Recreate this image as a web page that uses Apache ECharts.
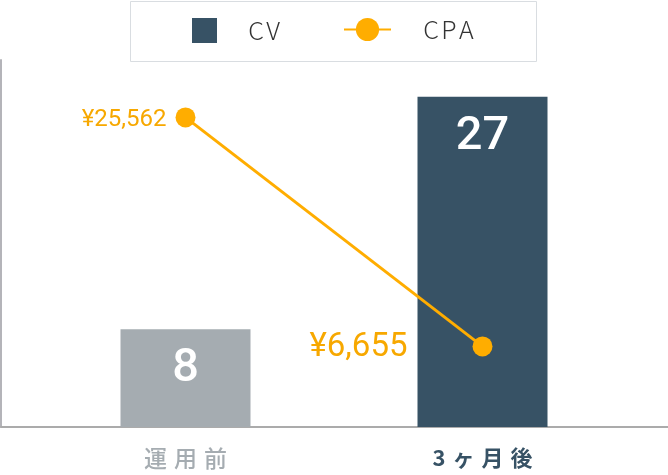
<!DOCTYPE html>
<html>
<head>
<meta charset="utf-8">
<script src="https://cdn.jsdelivr.net/npm/echarts@6/dist/echarts.min.js"></script>
<style>
html,body{margin:0;padding:0;background:#fff;}
#c{width:668px;height:475px;}
</style>
</head>
<body>
<div id="c"></div>
<script>
// ---- data ----
const categories = ['運用前', '3ヶ月後'];
const cvValues = [8, 27];
const cpaValues = [25562, 6655];
const seriesNames = ['CV', 'CPA'];

// ---- styles ----
const DARK = '#375265';
const GRAY = '#a5acb1';
const ORANGE = '#ffad00';
const barColors = [GRAY, DARK];
const cpaLabelStyles = [
  { fontSize: 24, distance: 9, offset: [0, 3] },
  { fontSize: 33, distance: 65, offset: [0, 1] }
];
const CJK = '"Noto Sans CJK JP", "Noto Sans", sans-serif';
const NUM = 'Roboto, "Noto Sans", sans-serif';

const chart = echarts.init(document.getElementById('c'), null, { renderer: 'canvas' });

function spaced(str, key) {
  return str.split('').map(ch => '{' + key + '|' + ch + '}').join('');
}

const option = {
  animation: false,
  backgroundColor: '#fff',
  graphic: [{
    type: 'rect',
    shape: { x: 130.5, y: 1.5, width: 406, height: 60 },
    style: { fill: 'none', stroke: '#d9dde1', lineWidth: 1 },
    silent: true
  }],
  legend: [{
    data: [{ name: seriesNames[0], icon: 'rect', itemStyle: { color: DARK } }],
    left: 192, top: 18, padding: 0,
    itemWidth: 25, itemHeight: 25,
    formatter: n => spaced(n, 'c'),
    textStyle: {
      padding: [0, 0, 0, 25],
      rich: { c: { fontSize: 25, fontWeight: 300, color: '#333', fontFamily: CJK, padding: [0, 1.2] } }
    }
  }, {
    data: [seriesNames[1]],
    left: 343, top: 17, padding: 0,
    itemWidth: 47, itemHeight: 29,
    formatter: n => spaced(n, 'c'),
    textStyle: {
      padding: [0, 0, 0, 26],
      rich: { c: { fontSize: 25, fontWeight: 300, color: '#333', fontFamily: CJK, padding: [0, 1.2] } }
    }
  }],
  grid: [
    { left: 37, right: 37, top: 60, bottom: 48 },
    { left: 1, right: 0, top: 60, bottom: 48 }
  ],
  xAxis: [{
    type: 'category',
    gridIndex: 0,
    data: categories,
    axisLine: { show: false },
    axisTick: { show: false },
    axisLabel: {
      margin: 20,
      formatter: (v, i) => spaced(v, i === 0 ? 'a' : 'b'),
      rich: {
        a: { fontSize: 23, color: GRAY, fontFamily: CJK, fontWeight: 500, padding: [0, 3.5] },
        b: { fontSize: 22, color: DARK, fontFamily: CJK, fontWeight: 'bold', padding: [0, 3.5] }
      }
    }
  }, {
    type: 'value',
    gridIndex: 1,
    min: 0, max: 1,
    axisLine: { show: true, lineStyle: { color: '#ababab', width: 2 } },
    axisTick: { show: false },
    axisLabel: { show: false },
    splitLine: { show: false }
  }],
  yAxis: [{
    type: 'value', gridIndex: 0, min: 0, max: 30, show: false
  }, {
    type: 'value', gridIndex: 0, min: 0, max: 30300, show: false
  }, {
    type: 'value',
    gridIndex: 1,
    min: 0, max: 1,
    axisLine: { show: true, lineStyle: { color: '#b4b4b9', width: 2 } },
    axisTick: { show: false },
    axisLabel: { show: false },
    splitLine: { show: false }
  }],
  series: [{
    name: seriesNames[0],
    type: 'bar',
    xAxisIndex: 0,
    yAxisIndex: 0,
    barWidth: 130,
    data: cvValues.map((v, i) => ({ value: v, itemStyle: { color: barColors[i] } })),
    itemStyle: { color: DARK },
    label: {
      show: true,
      position: 'insideTop',
      distance: 17,
      color: '#fff',
      fontSize: 47,
      fontWeight: 500,
      fontFamily: NUM
    }
  }, {
    name: seriesNames[1],
    type: 'line',
    xAxisIndex: 0,
    yAxisIndex: 1,
    symbol: 'circle',
    symbolSize: 20,
    z: 5,
    lineStyle: { color: ORANGE, width: 3 },
    itemStyle: { color: ORANGE, borderWidth: 0 },
    data: cpaValues.map((v, i) => ({
      value: v,
      label: {
        fontSize: cpaLabelStyles[i].fontSize,
        distance: cpaLabelStyles[i].distance,
        offset: cpaLabelStyles[i].offset
      }
    })),
    label: {
      show: true,
      position: 'left',
      color: '#f7a800',
      fontFamily: NUM,
      formatter: p => '¥' + Number(p.value).toLocaleString('en-US')
    }
  }]
};
chart.setOption(option);
</script>
</body>
</html>
